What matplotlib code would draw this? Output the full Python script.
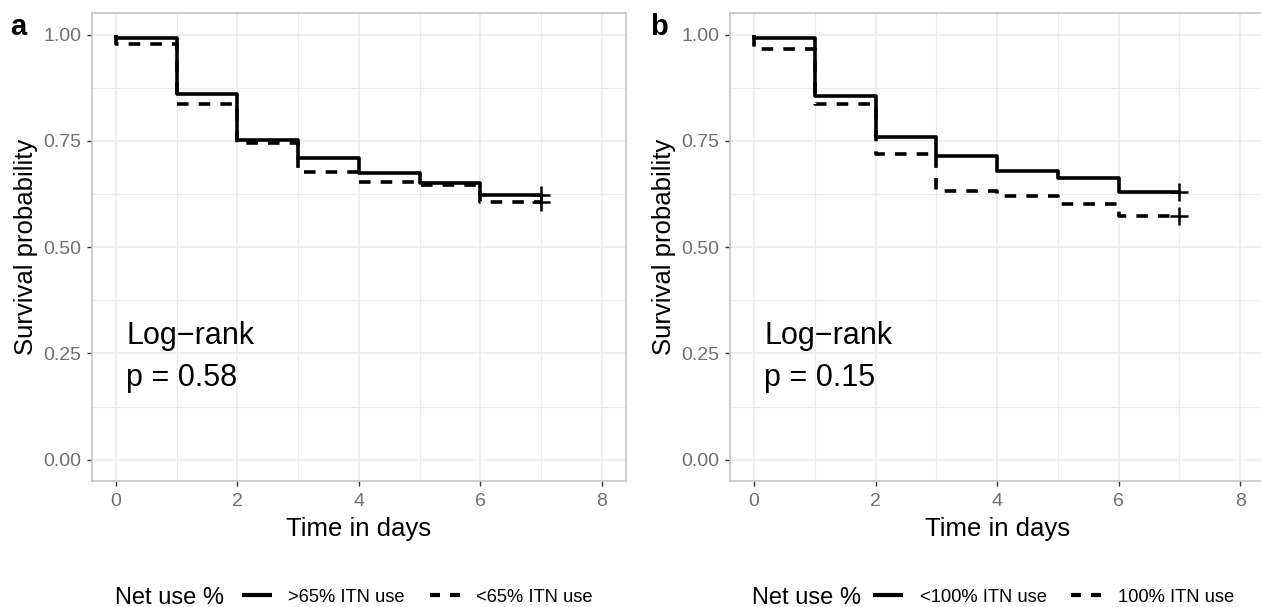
import matplotlib
matplotlib.use("Agg")
import matplotlib.pyplot as plt
from matplotlib.lines import Line2D
from matplotlib.ticker import MultipleLocator

plt.rcParams['font.family'] = ['Liberation Sans', 'DejaVu Sans']

# ---- data ----
step_times = [0, 0, 1, 2, 3, 4, 5, 6, 7]
a_solid = [1.0, 0.992, 0.861, 0.752, 0.709, 0.674, 0.652, 0.623, 0.623]
a_dashed = [1.0, 0.978, 0.837, 0.745, 0.677, 0.654, 0.645, 0.606, 0.606]
b_solid = [1.0, 0.992, 0.855, 0.760, 0.715, 0.680, 0.663, 0.629, 0.629]
b_dashed = [1.0, 0.965, 0.837, 0.719, 0.631, 0.620, 0.602, 0.573, 0.573]
censor_time = 7

a_labels = [">65% ITN use", "<65% ITN use"]
b_labels = ["<100% ITN use", "100% ITN use"]
a_pval = "p = 0.58"
b_pval = "p = 0.15"
panel_tags = ["a", "b"]
legend_title = "Net use %"
x_ticks = [0, 2, 4, 6, 8]
y_ticks = [0.00, 0.25, 0.50, 0.75, 1.00]
y_ticklabels = ["0.00", "0.25", "0.50", "0.75", "1.00"]

W, H = 1261, 607
fig = plt.figure(figsize=(W / 100, H / 100), dpi=100)

LW = 2.6
DASH = (3.2, 2.8)
GRID = '#EBEBEB'
BORDER = '#C4C4C4'
TICKC = '#707070'


def make_panel(left_px, right_px, solid, dashed, labels, pval, tag, tag_x_px,
               title_x_px, key_x_px):
    top_px, bot_px = 13.3, 481.0
    ax = fig.add_axes([left_px / W, (H - bot_px) / H,
                       (right_px - left_px) / W, (bot_px - top_px) / H])
    ax.set_xlim(-0.4, 8.4)
    ax.set_ylim(-0.05, 1.05)
    ax.xaxis.set_minor_locator(MultipleLocator(1))
    ax.yaxis.set_minor_locator(MultipleLocator(0.125))
    ax.set_xticks(x_ticks)
    ax.set_yticks(y_ticks)
    ax.set_yticklabels(y_ticklabels)
    ax.grid(True, which='major', color=GRID, lw=1.1, zorder=0)
    ax.grid(True, which='minor', color=GRID, lw=0.8, zorder=0)
    ax.set_axisbelow(True)
    for s in ax.spines.values():
        s.set_color(BORDER)
        s.set_linewidth(1.2)
    ax.tick_params(which='major', length=3.8, width=1.0, color='#333333',
                   labelsize=14, labelcolor=TICKC, pad=3.5)
    ax.tick_params(axis='x', which='major', pad=5)
    ax.tick_params(which='minor', length=0)

    ax.plot(step_times, solid, drawstyle='steps-post', color='black',
            lw=LW, solid_capstyle='butt', zorder=3)
    ax.plot(step_times, dashed, drawstyle='steps-post', color='black',
            lw=LW, dashes=DASH, dash_capstyle='butt', zorder=2)
    ax.plot([censor_time], [solid[-1]], marker='+', ms=13, mew=1.8,
            color='black', zorder=4)
    ax.plot([censor_time], [dashed[-1]], marker='+', ms=13, mew=1.8,
            color='black', zorder=4)

    ax.set_xlabel("Time in days", fontsize=18.5, labelpad=5)
    ax.set_ylabel("Survival probability", fontsize=18.5, labelpad=4)

    ax.text(0.17, 0.272, "Log\u2212rank", fontsize=22, ha='left',
            va='baseline')
    ax.text(0.17, 0.173, pval, fontsize=22, ha='left', va='baseline')

    fig.text(tag_x_px / W, (H - 35) / H, tag, fontsize=21, fontweight='bold',
             ha='left', va='baseline')

    # legend
    fig.text(title_x_px / W, (H - 604) / H, legend_title, fontsize=17,
             ha='left', va='baseline')
    h1 = Line2D([], [], color='black', lw=3.0, solid_capstyle='butt')
    h2 = Line2D([], [], color='black', lw=3.0, dashes=(2.4, 2.4),
                dash_capstyle='butt')
    fig.legend([h1, h2], labels, loc='center left',
               bbox_to_anchor=(key_x_px / W, (H - 597) / H),
               ncol=2, frameon=False, fontsize=13.2, handlelength=1.64,
               handletextpad=0.9, columnspacing=1.35, borderpad=0,
               borderaxespad=0)
    return ax


make_panel(91.7, 626.0, a_solid, a_dashed, a_labels, a_pval, panel_tags[0],
           10, 115, 241.7)
make_panel(729.6, 1264.6, b_solid, b_dashed, b_labels, b_pval, panel_tags[1],
           650, 752, 873)

fig.savefig("out.png", dpi=100)
